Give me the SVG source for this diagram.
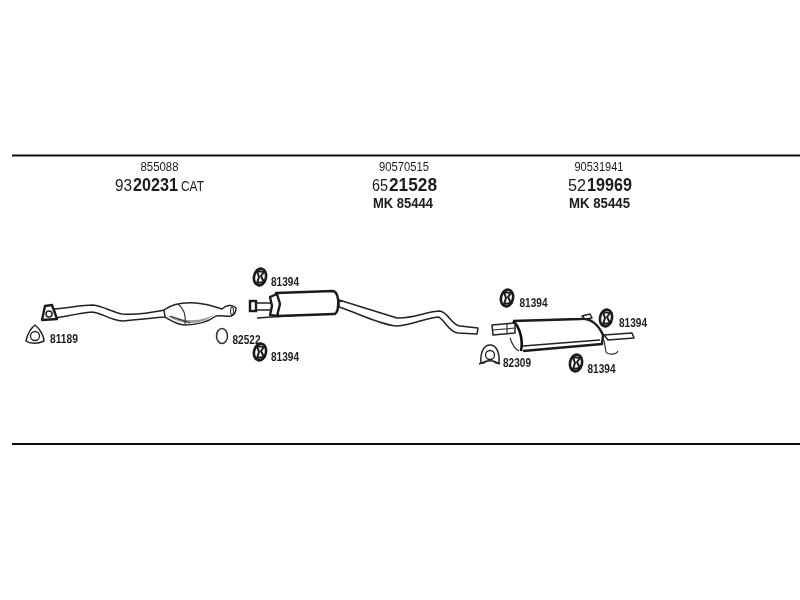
<svg xmlns="http://www.w3.org/2000/svg" width="800" height="600" viewBox="0 0 800 600">
<defs>
<filter id="soft" x="-5%" y="-5%" width="110%" height="110%"><feGaussianBlur stdDeviation="0.45"/></filter>
<g id="clamp"><ellipse cx="0" cy="0" rx="6" ry="8.500" transform="rotate(12)" fill="#fff" stroke="#1a1a1a" stroke-width="2.600"/><path d="M-3 -6 L4 -5 L1 -1 L4 5 L-3 6 L-1 0Z" fill="#fff" stroke="#1a1a1a" stroke-width="2"/></g>
</defs>
<style>
text{font-family:"Liberation Sans",Arial,sans-serif;fill:#1c1c1c;text-anchor:middle}
.l{text-anchor:start}
.s{font-size:13px}
.m{font-size:16px}
.b{font-weight:bold;font-size:19px}
.c{font-size:14px}
.k{font-size:14px;font-weight:bold}
.n{font-size:13px;font-weight:bold}
.o{fill:#fff;stroke:#222;stroke-width:1.500;stroke-linejoin:round}
.h{fill:#fff;stroke:#1a1a1a;stroke-width:2.400;stroke-linejoin:round}
.t{fill:none;stroke:#333;stroke-width:1.200}
.r{stroke:#111;stroke-width:2.200}
</style>
<rect width="800" height="600" fill="#fff"/>
<g filter="url(#soft)">
<g id="rules"><line class="r" x1="12" y1="155.500" x2="800" y2="155.500"/><line class="r" x1="12" y1="444" x2="800" y2="444"/></g>
<g id="header-1"><text class="s" x="159.500" y="171" textLength="38" lengthAdjust="spacingAndGlyphs">855088</text><text class="m l" x="115" y="191" textLength="17" lengthAdjust="spacingAndGlyphs">93</text><text class="b l" x="133" y="191" textLength="45" lengthAdjust="spacingAndGlyphs">20231</text><text class="c l" x="181" y="191" textLength="23" lengthAdjust="spacingAndGlyphs">CAT</text></g>
<g id="header-2"><text class="s" x="404" y="171" textLength="50" lengthAdjust="spacingAndGlyphs">90570515</text><text class="m l" x="372" y="191" textLength="16" lengthAdjust="spacingAndGlyphs">65</text><text class="b l" x="389" y="191" textLength="48" lengthAdjust="spacingAndGlyphs">21528</text><text class="k" x="403" y="207.500" textLength="60" lengthAdjust="spacingAndGlyphs">MK 85444</text></g>
<g id="header-3"><text class="s" x="599" y="171" textLength="49" lengthAdjust="spacingAndGlyphs">90531941</text><text class="m l" x="568" y="191" textLength="18" lengthAdjust="spacingAndGlyphs">52</text><text class="b l" x="587" y="191" textLength="45" lengthAdjust="spacingAndGlyphs">19969</text><text class="k" x="599.500" y="207.500" textLength="61" lengthAdjust="spacingAndGlyphs">MK 85445</text></g>

<g id="front-pipe">
<path class="o" d="M54 309 C68 308 82 305 93 305 C103 306 112 312 122 314 C135 315 150 313 165 310 L166 317 C150 318 136 320 122 321 C110 320 102 313 92 312 C80 313 68 316 56 318Z"/>
<path class="h" d="M45 306 L52 305 L57 319 L42 320Z"/><circle cx="49" cy="314" r="3" fill="#fff" stroke="#222" stroke-width="1.500"/>
</g>
<g id="catalyst">
<path class="o" d="M164 310 C172 304 182 302 196 303 C208 304 216 307 222 309 C226 305 232 304 236 308 C236 312 234 315 231 316 C226 317 222 315 216 316 C208 322 198 325 184 325 C176 324 170 320 165 317Z" stroke-width="1.800"/>
<path d="M167 316 C174 320 182 323 190 323 C200 323 208 320 214 315 L206 318 C196 321 186 321 178 318Z" fill="#999"/>
<path class="t" d="M178 304 C186 310 186 318 185 325 M170 316 L190 323"/>
<ellipse cx="232" cy="311" rx="1.500" ry="4" fill="none" stroke="#222"/>
</g>
<g id="seal-81189"><path class="o" d="M35 325 C40 329 44 336 44 341 C38 344 30 344 26 341 C27 336 30 329 35 325Z"/><circle cx="35" cy="336" r="4.500" fill="#fff" stroke="#222" stroke-width="1.300"/><text class="n" x="64" y="342.500" textLength="28" lengthAdjust="spacingAndGlyphs">81189</text></g>
<g id="ring-82522"><ellipse cx="222" cy="336" rx="5.500" ry="7.500" fill="#fff" stroke="#333" stroke-width="1.500"/><text class="n" x="246.500" y="343.500" textLength="28" lengthAdjust="spacingAndGlyphs">82522</text></g>
<g id="clamp-a"><use href="#clamp" x="260" y="277"/><text class="n" x="285" y="286" textLength="28" lengthAdjust="spacingAndGlyphs">81394</text></g>
<g id="clamp-b"><use href="#clamp" x="260" y="352"/><text class="n" x="285" y="360.500" textLength="28" lengthAdjust="spacingAndGlyphs">81394</text></g>

<g id="middle-muffler">
<path class="o" d="M339 300 L397 318 C412 319 428 311 440 311 C448 312 452 326 460 326 L478 328 L477 334 L458 333 C448 332 444 318 438 317 C426 318 412 325 397 326 C380 325 358 313 339 307Z"/>
<path class="o" d="M252 303 L275 303 L275 310 L252 310Z"/>
<rect x="250" y="301" width="6" height="10" fill="#fff" stroke="#1a1a1a" stroke-width="2.400"/>
<path d="M257 318 L330 313" fill="none" stroke="#222" stroke-width="1.400"/>
<path class="h" d="M276 293 L333 291 C337 292 339 298 338 306 C338 311 336 314 334 314 L278 316 C276 310 276 300 276 293Z"/>
<path class="h" d="M270 297 L277 294 L280 304 L277 316 L270 315 L272 306Z" stroke-width="1.800"/>
</g>

<g id="rear-muffler">
<path class="o" d="M604 335 L632 333 L634 338 L608 340Z"/>
<path class="t" d="M604 340 L606 352 C608 355 616 355 618 351" stroke-width="1.500"/>
<path d="M513 321 L580 319 C590 318 598 324 603 335 L602 344 L523 351 C518 350 511 340 510 332Z" fill="#fff"/>
<path d="M513 321 L580 319 C590 318 598 324 603 335 L602 344 L523 351" fill="none" stroke="#1a1a1a" stroke-width="2.400" stroke-linejoin="round"/>
<path d="M513 321 C521 328 523 342 521 351" fill="none" stroke="#111" stroke-width="2.600"/>
<path d="M510 338 C512 344 515 349 519 351" fill="none" stroke="#333" stroke-width="1.200"/>
<path d="M523 346 L600 340" fill="none" stroke="#222" stroke-width="1.400"/>
<path class="o" d="M492 325 L515 323 L515 333 L493 335Z"/>
<path class="t" d="M493 330 L515 328 M507 323.500 L507 334"/>
<path class="o" d="M582 316 L590 314 L592 318 L585 319Z"/>
</g>
<g id="clamp-c"><use href="#clamp" x="507" y="298"/><text class="n" x="533.500" y="307" textLength="28" lengthAdjust="spacingAndGlyphs">81394</text></g>
<g id="clamp-d"><use href="#clamp" x="606" y="318"/><text class="n" x="633" y="326.500" textLength="28" lengthAdjust="spacingAndGlyphs">81394</text></g>
<g id="clamp-e"><use href="#clamp" x="576" y="363"/><text class="n" x="601.500" y="372.500" textLength="28" lengthAdjust="spacingAndGlyphs">81394</text></g>
<g id="clamp-82309"><path class="o" d="M481 363 C480 352 484 345 490 345 C496 345 500 352 499 363 L496 363 C494 360 486 360 484 363Z"/><circle cx="490" cy="355" r="4.500" fill="#fff" stroke="#222" stroke-width="1.300"/><path d="M479 364 L487 361 M493 361 L500 364" stroke="#222" stroke-width="1.800"/><text class="n" x="517" y="366.500" textLength="28" lengthAdjust="spacingAndGlyphs">82309</text></g>
</g>
</svg>
